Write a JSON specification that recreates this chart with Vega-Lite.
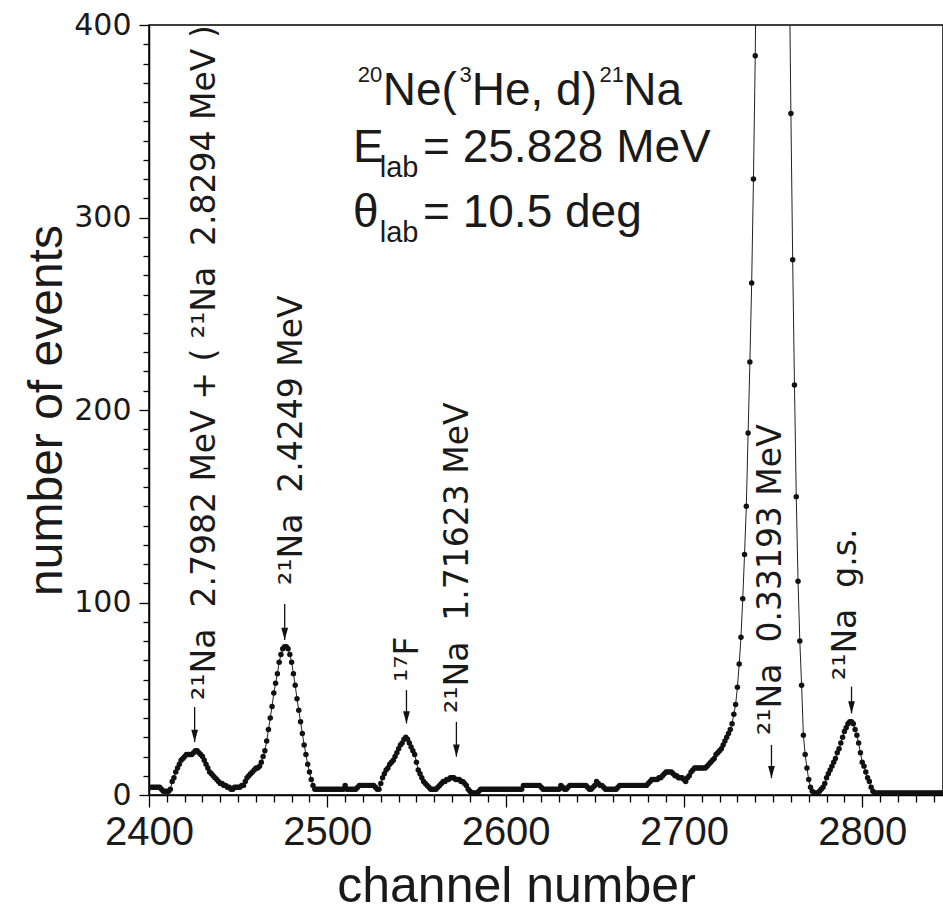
{
"$schema": "https://vega.github.io/schema/vega-lite/v6.json",
"width": 794, "height": 770,
"autosize": {"type": "none"},
"padding": {"left": 149, "top": 25, "right": 0, "bottom": 127},
"background": "white",
"config": {"view": {"stroke": "black", "strokeWidth": 1.5}},
"datasets": {
"spectrum": [
{"ch":2400,"n":4},{"ch":2401,"n":4},{"ch":2402,"n":4},{"ch":2403,"n":4},{"ch":2404,"n":4},{"ch":2405,"n":4},{"ch":2406,"n":4},{"ch":2407,"n":3},{"ch":2408,"n":2},{"ch":2409,"n":2},
{"ch":2410,"n":2},{"ch":2411,"n":2},{"ch":2412,"n":3},{"ch":2413,"n":7},{"ch":2414,"n":9},{"ch":2415,"n":12},{"ch":2416,"n":14},{"ch":2417,"n":16},{"ch":2418,"n":18},{"ch":2419,"n":19},
{"ch":2420,"n":20},{"ch":2421,"n":21},{"ch":2422,"n":21},{"ch":2423,"n":21},{"ch":2424,"n":21},{"ch":2425,"n":22},{"ch":2426,"n":23},{"ch":2427,"n":23},{"ch":2428,"n":22},{"ch":2429,"n":21},
{"ch":2430,"n":20},{"ch":2431,"n":18},{"ch":2432,"n":16},{"ch":2433,"n":14},{"ch":2434,"n":12},{"ch":2435,"n":11},{"ch":2436,"n":10},{"ch":2437,"n":9},{"ch":2438,"n":8},{"ch":2439,"n":7},
{"ch":2440,"n":6},{"ch":2441,"n":6},{"ch":2442,"n":5},{"ch":2443,"n":5},{"ch":2444,"n":4},{"ch":2445,"n":4},{"ch":2446,"n":3},{"ch":2447,"n":3},{"ch":2448,"n":4},{"ch":2449,"n":4},
{"ch":2450,"n":4},{"ch":2451,"n":4},{"ch":2452,"n":5},{"ch":2453,"n":5},{"ch":2454,"n":7},{"ch":2455,"n":9},{"ch":2456,"n":10},{"ch":2457,"n":11},{"ch":2458,"n":12},{"ch":2459,"n":13},
{"ch":2460,"n":14},{"ch":2461,"n":14},{"ch":2462,"n":15},{"ch":2463,"n":17},{"ch":2464,"n":20},{"ch":2465,"n":23},{"ch":2466,"n":28},{"ch":2467,"n":34},{"ch":2468,"n":40},{"ch":2469,"n":46},
{"ch":2470,"n":53},{"ch":2471,"n":58},{"ch":2472,"n":63},{"ch":2473,"n":69},{"ch":2474,"n":73},{"ch":2475,"n":76},{"ch":2476,"n":77},{"ch":2477,"n":77},{"ch":2478,"n":76},{"ch":2479,"n":73},
{"ch":2480,"n":69},{"ch":2481,"n":63},{"ch":2482,"n":57},{"ch":2483,"n":50},{"ch":2484,"n":44},{"ch":2485,"n":38},{"ch":2486,"n":32},{"ch":2487,"n":26},{"ch":2488,"n":21},{"ch":2489,"n":16},
{"ch":2490,"n":12},{"ch":2491,"n":8},{"ch":2492,"n":5},{"ch":2493,"n":3},{"ch":2494,"n":3},{"ch":2495,"n":3},{"ch":2496,"n":3},{"ch":2497,"n":3},{"ch":2498,"n":3},{"ch":2499,"n":3},
{"ch":2500,"n":3},{"ch":2501,"n":3},{"ch":2502,"n":3},{"ch":2503,"n":3},{"ch":2504,"n":3},{"ch":2505,"n":3},{"ch":2506,"n":3},{"ch":2507,"n":3},{"ch":2508,"n":3},{"ch":2509,"n":3},
{"ch":2510,"n":5},{"ch":2511,"n":3},{"ch":2512,"n":3},{"ch":2513,"n":3},{"ch":2514,"n":3},{"ch":2515,"n":3},{"ch":2516,"n":3},{"ch":2517,"n":4},{"ch":2518,"n":5},{"ch":2519,"n":5},
{"ch":2520,"n":5},{"ch":2521,"n":5},{"ch":2522,"n":5},{"ch":2523,"n":5},{"ch":2524,"n":5},{"ch":2525,"n":5},{"ch":2526,"n":5},{"ch":2527,"n":4},{"ch":2528,"n":3},{"ch":2529,"n":3},
{"ch":2530,"n":6},{"ch":2531,"n":9},{"ch":2532,"n":11},{"ch":2533,"n":13},{"ch":2534,"n":14},{"ch":2535,"n":16},{"ch":2536,"n":17},{"ch":2537,"n":18},{"ch":2538,"n":20},{"ch":2539,"n":22},
{"ch":2540,"n":24},{"ch":2541,"n":26},{"ch":2542,"n":27},{"ch":2543,"n":29},{"ch":2544,"n":30},{"ch":2545,"n":29},{"ch":2546,"n":27},{"ch":2547,"n":25},{"ch":2548,"n":23},{"ch":2549,"n":21},
{"ch":2550,"n":17},{"ch":2551,"n":13},{"ch":2552,"n":11},{"ch":2553,"n":9},{"ch":2554,"n":7},{"ch":2555,"n":6},{"ch":2556,"n":5},{"ch":2557,"n":4},{"ch":2558,"n":3},{"ch":2559,"n":3},
{"ch":2560,"n":3},{"ch":2561,"n":3},{"ch":2562,"n":4},{"ch":2563,"n":5},{"ch":2564,"n":6},{"ch":2565,"n":7},{"ch":2566,"n":7},{"ch":2567,"n":8},{"ch":2568,"n":8},{"ch":2569,"n":9},
{"ch":2570,"n":9},{"ch":2571,"n":9},{"ch":2572,"n":8},{"ch":2573,"n":8},{"ch":2574,"n":8},{"ch":2575,"n":7},{"ch":2576,"n":7},{"ch":2577,"n":6},{"ch":2578,"n":5},{"ch":2579,"n":3},
{"ch":2580,"n":2},{"ch":2581,"n":1},{"ch":2582,"n":1},{"ch":2583,"n":1},{"ch":2584,"n":1},{"ch":2585,"n":2},{"ch":2586,"n":3},{"ch":2587,"n":3},{"ch":2588,"n":3},{"ch":2589,"n":3},
{"ch":2590,"n":3},{"ch":2591,"n":3},{"ch":2592,"n":3},{"ch":2593,"n":3},{"ch":2594,"n":3},{"ch":2595,"n":3},{"ch":2596,"n":3},{"ch":2597,"n":3},{"ch":2598,"n":3},{"ch":2599,"n":3},
{"ch":2600,"n":3},{"ch":2601,"n":3},{"ch":2602,"n":3},{"ch":2603,"n":3},{"ch":2604,"n":3},{"ch":2605,"n":3},{"ch":2606,"n":3},{"ch":2607,"n":3},{"ch":2608,"n":3},{"ch":2609,"n":3},
{"ch":2610,"n":5},{"ch":2611,"n":5},{"ch":2612,"n":5},{"ch":2613,"n":5},{"ch":2614,"n":5},{"ch":2615,"n":5},{"ch":2616,"n":5},{"ch":2617,"n":5},{"ch":2618,"n":5},{"ch":2619,"n":5},
{"ch":2620,"n":4},{"ch":2621,"n":3},{"ch":2622,"n":3},{"ch":2623,"n":3},{"ch":2624,"n":3},{"ch":2625,"n":3},{"ch":2626,"n":3},{"ch":2627,"n":3},{"ch":2628,"n":3},{"ch":2629,"n":3},
{"ch":2630,"n":3},{"ch":2631,"n":5},{"ch":2632,"n":4},{"ch":2633,"n":3},{"ch":2634,"n":3},{"ch":2635,"n":4},{"ch":2636,"n":5},{"ch":2637,"n":5},{"ch":2638,"n":5},{"ch":2639,"n":5},
{"ch":2640,"n":5},{"ch":2641,"n":5},{"ch":2642,"n":5},{"ch":2643,"n":5},{"ch":2644,"n":5},{"ch":2645,"n":5},{"ch":2646,"n":4},{"ch":2647,"n":3},{"ch":2648,"n":3},{"ch":2649,"n":4},
{"ch":2650,"n":5},{"ch":2651,"n":7},{"ch":2652,"n":6},{"ch":2653,"n":5},{"ch":2654,"n":5},{"ch":2655,"n":4},{"ch":2656,"n":3},{"ch":2657,"n":3},{"ch":2658,"n":3},{"ch":2659,"n":3},
{"ch":2660,"n":3},{"ch":2661,"n":3},{"ch":2662,"n":3},{"ch":2663,"n":4},{"ch":2664,"n":5},{"ch":2665,"n":5},{"ch":2666,"n":5},{"ch":2667,"n":5},{"ch":2668,"n":5},{"ch":2669,"n":5},
{"ch":2670,"n":5},{"ch":2671,"n":5},{"ch":2672,"n":5},{"ch":2673,"n":5},{"ch":2674,"n":5},{"ch":2675,"n":5},{"ch":2676,"n":5},{"ch":2677,"n":5},{"ch":2678,"n":5},{"ch":2679,"n":5},
{"ch":2680,"n":6},{"ch":2681,"n":7},{"ch":2682,"n":8},{"ch":2683,"n":8},{"ch":2684,"n":8},{"ch":2685,"n":8},{"ch":2686,"n":9},{"ch":2687,"n":9},{"ch":2688,"n":10},{"ch":2689,"n":11},
{"ch":2690,"n":12},{"ch":2691,"n":12},{"ch":2692,"n":12},{"ch":2693,"n":12},{"ch":2694,"n":11},{"ch":2695,"n":10},{"ch":2696,"n":10},{"ch":2697,"n":9},{"ch":2698,"n":9},{"ch":2699,"n":9},
{"ch":2700,"n":8},{"ch":2701,"n":7},{"ch":2702,"n":9},{"ch":2703,"n":10},{"ch":2704,"n":12},{"ch":2705,"n":13},{"ch":2706,"n":14},{"ch":2707,"n":14},{"ch":2708,"n":14},{"ch":2709,"n":14},
{"ch":2710,"n":14},{"ch":2711,"n":14},{"ch":2712,"n":14},{"ch":2713,"n":15},{"ch":2714,"n":16},{"ch":2715,"n":17},{"ch":2716,"n":18},{"ch":2717,"n":19},{"ch":2718,"n":21},{"ch":2719,"n":22},
{"ch":2720,"n":23},{"ch":2721,"n":24},{"ch":2722,"n":26},{"ch":2723,"n":28},{"ch":2724,"n":30},{"ch":2725,"n":32},{"ch":2726,"n":34},{"ch":2727,"n":37},{"ch":2728,"n":42},{"ch":2729,"n":47},
{"ch":2730,"n":56},{"ch":2731,"n":68},{"ch":2732,"n":82},{"ch":2733,"n":102},{"ch":2734,"n":125},{"ch":2735,"n":150},{"ch":2736,"n":188},{"ch":2737,"n":225},{"ch":2738,"n":266},{"ch":2739,"n":320},
{"ch":2740,"n":384},{"ch":2741,"n":470},{"ch":2742,"n":560},{"ch":2743,"n":670},{"ch":2744,"n":790},{"ch":2745,"n":920},{"ch":2746,"n":1040},{"ch":2747,"n":1140},{"ch":2748,"n":1220},{"ch":2749,"n":1260},
{"ch":2750,"n":1270},{"ch":2751,"n":1250},{"ch":2752,"n":1200},{"ch":2753,"n":1120},{"ch":2754,"n":1010},{"ch":2755,"n":880},{"ch":2756,"n":750},{"ch":2757,"n":630},{"ch":2758,"n":530},{"ch":2759,"n":440},
{"ch":2760,"n":354},{"ch":2761,"n":278},{"ch":2762,"n":213},{"ch":2763,"n":155},{"ch":2764,"n":111},{"ch":2765,"n":80},{"ch":2766,"n":57},{"ch":2767,"n":31},{"ch":2768,"n":21},{"ch":2769,"n":14},
{"ch":2770,"n":8},{"ch":2771,"n":4},{"ch":2772,"n":2},{"ch":2773,"n":1},{"ch":2774,"n":1},{"ch":2775,"n":1},{"ch":2776,"n":2},{"ch":2777,"n":3},{"ch":2778,"n":4},{"ch":2779,"n":6},
{"ch":2780,"n":9},{"ch":2781,"n":11},{"ch":2782,"n":13},{"ch":2783,"n":15},{"ch":2784,"n":17},{"ch":2785,"n":19},{"ch":2786,"n":22},{"ch":2787,"n":24},{"ch":2788,"n":27},{"ch":2789,"n":30},
{"ch":2790,"n":33},{"ch":2791,"n":35},{"ch":2792,"n":37},{"ch":2793,"n":38},{"ch":2794,"n":38},{"ch":2795,"n":37},{"ch":2796,"n":34},{"ch":2797,"n":31},{"ch":2798,"n":27},{"ch":2799,"n":22},
{"ch":2800,"n":17},{"ch":2801,"n":15},{"ch":2802,"n":12},{"ch":2803,"n":9},{"ch":2804,"n":7},{"ch":2805,"n":4},{"ch":2806,"n":2},{"ch":2807,"n":1},{"ch":2808,"n":1},{"ch":2809,"n":1},
{"ch":2810,"n":1},{"ch":2811,"n":1},{"ch":2812,"n":1},{"ch":2813,"n":1},{"ch":2814,"n":1},{"ch":2815,"n":1},{"ch":2816,"n":1},{"ch":2817,"n":1},{"ch":2818,"n":1},{"ch":2819,"n":1},
{"ch":2820,"n":1},{"ch":2821,"n":1},{"ch":2822,"n":1},{"ch":2823,"n":1},{"ch":2824,"n":1},{"ch":2825,"n":1},{"ch":2826,"n":1},{"ch":2827,"n":1},{"ch":2828,"n":1},{"ch":2829,"n":1},
{"ch":2830,"n":1},{"ch":2831,"n":1},{"ch":2832,"n":1},{"ch":2833,"n":1},{"ch":2834,"n":1},{"ch":2835,"n":1},{"ch":2836,"n":1},{"ch":2837,"n":1},{"ch":2838,"n":1},{"ch":2839,"n":1},
{"ch":2840,"n":1},{"ch":2841,"n":1},{"ch":2842,"n":1},{"ch":2843,"n":1},{"ch":2844,"n":1},{"ch":2845,"n":1},{"ch":2846,"n":1}
],
"labels": [
{"ch":2436.8,"n":49.4,"t":"²¹Na\u00a0\u00a02.7982 MeV + ( ²¹Na\u00a0\u00a02.8294 MeV )"},
{"ch":2485.6,"n":109.1,"t":"²¹Na\u00a0\u00a02.4249 MeV"},
{"ch":2551.1,"n":58.7,"t":"¹⁷F"},
{"ch":2578.8,"n":42.6,"t":"²¹Na\u00a0\u00a01.71623 MeV"},
{"ch":2754.3,"n":31.2,"t":"²¹Na\u00a0\u00a00.33193 MeV"},
{"ch":2796.5,"n":59.7,"t":"²¹Na\u00a0\u00a0g.s."}
],
"arrows": [
{"ch":2425.6,"n":27.5,"top":45.7},
{"ch":2476.1,"n":80.5,"top":99.2},
{"ch":2544.4,"n":37.2,"top":54.5},
{"ch":2572.4,"n":19.9,"top":38.0},
{"ch":2749.1,"n":8.7,"top":26.0},
{"ch":2794.0,"n":42.4,"top":56.3}
],
"info": [
{"ch":2531.1,"n":358.4,"t":"Ne("},
{"ch":2581.0,"n":358.4,"t":"He, d)"},
{"ch":2666.0,"n":358.4,"t":"Na"},
{"ch":2514.4,"n":329.0,"t":"E"},
{"ch":2553.7,"n":329.0,"t":"= 25.828 MeV"},
{"ch":2514.4,"n":295.2,"t":"θ"},
{"ch":2553.7,"n":295.2,"t":"= 10.5 deg"}
],
"sup": [
{"ch":2517.1,"n":370.4,"t":"20"},
{"ch":2574.2,"n":370.4,"t":"3"},
{"ch":2652.6,"n":370.4,"t":"21"}
],
"sub": [
{"ch":2529.4,"n":321.2,"t":"lab"},
{"ch":2529.4,"n":287.4,"t":"lab"}
]
},
"encoding": {
"x": {"field": "ch", "type": "quantitative",
 "scale": {"domain": [2400, 2845.3], "nice": false, "zero": false},
 "axis": {"values": [2400,2410,2420,2430,2440,2450,2460,2470,2480,2490,2500,2510,2520,2530,2540,2550,2560,2570,2580,2590,2600,2610,2620,2630,2640,2650,2660,2670,2680,2690,2700,2710,2720,2730,2740,2750,2760,2770,2780,2790,2800,2810,2820,2830,2840],
  "format": "d",
  "labelExpr": "datum.value % 100 === 0 ? datum.label : ''",
  "tickSize": {"condition": {"test": "datum.value % 100 === 0", "value": 12}, "value": 7},
  "tickColor": "black", "tickWidth": 1.3, "domainColor": "black", "domainWidth": 1.5,
  "grid": false, "labelOverlap": false, "labelFlush": false,
  "labelFont": "Liberation Sans", "labelFontSize": 40, "labelColor": "#1a1a1a", "labelPadding": 5,
  "title": "channel number", "titleFont": "Liberation Sans", "titleFontSize": 50, "titleFontWeight": "normal", "titleColor": "#1a1a1a",
  "titleX": 367, "titleY": 106, "titleAlign": "center", "titleBaseline": "alphabetic", "titleAnchor": null}},
"y": {"field": "n", "type": "quantitative",
 "scale": {"domain": [0, 400], "nice": false, "zero": false},
 "axis": {"values": [0,10,20,30,40,50,60,70,80,90,100,110,120,130,140,150,160,170,180,190,200,210,220,230,240,250,260,270,280,290,300,310,320,330,340,350,360,370,380,390,400],
  "format": "d",
  "labelExpr": "datum.value % 100 === 0 ? datum.label : ''",
  "tickSize": {"condition": {"test": "datum.value % 100 === 0", "value": 10}, "value": 6},
  "tickColor": "black", "tickWidth": 1.3, "domainColor": "black", "domainWidth": 1.5,
  "grid": false, "labelOverlap": false, "labelFlush": false,
  "labelFont": "DejaVu Sans", "labelFontSize": 30, "labelColor": "#1a1a1a", "labelPadding": 8,
  "title": "number of events", "titleFont": "Liberation Sans", "titleFontSize": 48, "titleFontWeight": "normal", "titleColor": "#1a1a1a",
  "titleX": -88, "titleY": 385, "titleAngle": 270, "titleAlign": "center", "titleBaseline": "alphabetic", "titleAnchor": null}}
},
"layer": [
{"data": {"name": "spectrum"}, "mark": {"type": "line", "color": "#222", "strokeWidth": 1, "clip": true}},
{"data": {"name": "spectrum"}, "mark": {"type": "circle", "color": "#111", "size": 30, "opacity": 1, "clip": true}},
{"data": {"name": "arrows"}, "mark": {"type": "rule", "color": "#111", "strokeWidth": 1.3}, "encoding": {"y2": {"field": "top"}}},
{"data": {"name": "arrows"}, "mark": {"type": "point", "shape": "M -0.55 -2 L 0.55 -2 L 0 0 Z", "filled": true, "size": 150, "color": "#111", "opacity": 1, "strokeWidth": 0}},
{"data": {"name": "labels"}, "mark": {"type": "text", "angle": 270, "align": "left", "baseline": "alphabetic", "font": "DejaVu Sans", "fontSize": 33, "color": "#1a1a1a"}, "encoding": {"text": {"field": "t"}}},
{"data": {"name": "info"}, "mark": {"type": "text", "align": "left", "baseline": "alphabetic", "font": "Liberation Sans", "fontSize": 46, "color": "#1a1a1a"}, "encoding": {"text": {"field": "t"}}},
{"data": {"name": "sup"}, "mark": {"type": "text", "align": "left", "baseline": "alphabetic", "font": "Liberation Sans", "fontSize": 22, "color": "#1a1a1a"}, "encoding": {"text": {"field": "t"}}},
{"data": {"name": "sub"}, "mark": {"type": "text", "align": "left", "baseline": "alphabetic", "font": "Liberation Sans", "fontSize": 29, "color": "#1a1a1a"}, "encoding": {"text": {"field": "t"}}}
]
}
